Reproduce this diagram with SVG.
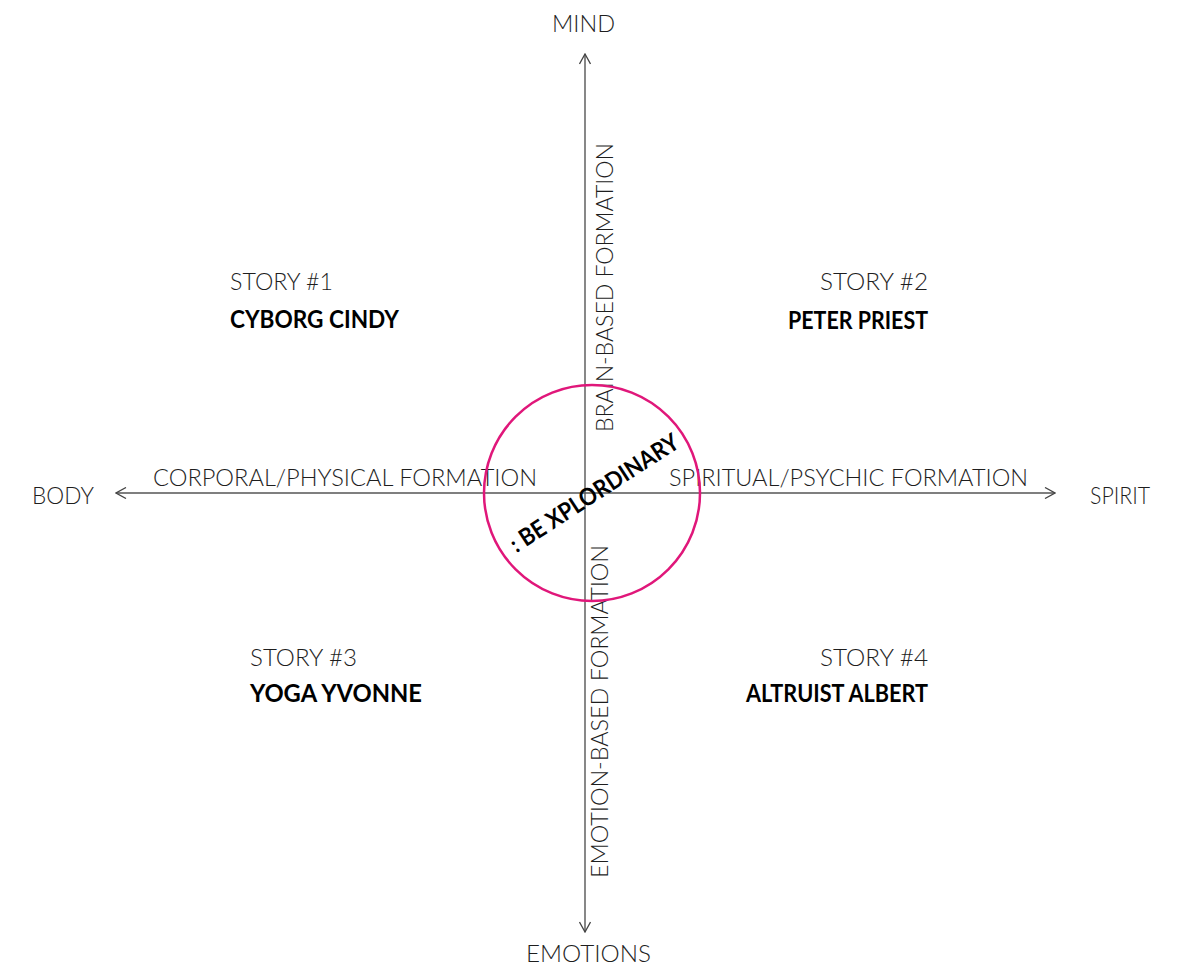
<svg xmlns="http://www.w3.org/2000/svg" width="1181" height="969" viewBox="0 0 1181 969">
  <style>
    .lt { font-family: Lato, "Liberation Sans", sans-serif; font-weight: 300; font-size: 24px; fill: #1e1e1e; }
    .bd { font-family: Lato, "Liberation Sans", sans-serif; font-weight: 700; font-size: 24px; fill: #000; }
    .ax { stroke: #555; stroke-width: 1.4; fill: none; }
  </style>
  <defs>
    <marker id="arr" viewBox="0 0 12 12" refX="11" refY="6" markerWidth="12" markerHeight="12" markerUnits="userSpaceOnUse" orient="auto">
      <path d="M1,0.5 L11,6 L1,11.5" fill="none" stroke="#444" stroke-width="1.3"/>
    </marker>
  </defs>
  <rect width="1181" height="969" fill="#fff"/>
  <g id="connectors">
    <line class="ax" x1="585" y1="493" x2="585" y2="54" marker-end="url(#arr)"/>
    <line class="ax" x1="585" y1="493" x2="585" y2="932" marker-end="url(#arr)"/>
    <line class="ax" x1="585" y1="493" x2="116" y2="493" marker-end="url(#arr)"/>
    <line class="ax" x1="585" y1="493" x2="1055" y2="493" marker-end="url(#arr)"/>
  </g>
  <g id="axis-labels">
    <text class="lt" x="552" y="32" textLength="63" lengthAdjust="spacingAndGlyphs">MIND</text>
    <text class="lt" x="526" y="962" textLength="125" lengthAdjust="spacingAndGlyphs">EMOTIONS</text>
    <text class="lt" x="32" y="504" textLength="62" lengthAdjust="spacingAndGlyphs">BODY</text>
    <text class="lt" x="1090" y="504" textLength="60" lengthAdjust="spacingAndGlyphs">SPIRIT</text>
    <text class="lt" x="153" y="486" textLength="384" lengthAdjust="spacingAndGlyphs">CORPORAL/PHYSICAL FORMATION</text>
    <text class="lt" x="669" y="486" textLength="359" lengthAdjust="spacingAndGlyphs">SPIRITUAL/PSYCHIC FORMATION</text>
    <text class="lt" transform="translate(613,432) rotate(-90)" x="0" y="0" textLength="289" lengthAdjust="spacingAndGlyphs">BRAIN-BASED FORMATION</text>
    <text class="lt" transform="translate(608,878) rotate(-90)" x="0" y="0" textLength="333" lengthAdjust="spacingAndGlyphs">EMOTION-BASED FORMATION</text>
  </g>
  <g id="center">
    <circle cx="592" cy="493" r="108" fill="none" stroke="#e0177a" stroke-width="2.5"/>
    <text class="bd" font-size="21" transform="translate(595,494) rotate(-33)" x="0" y="7" text-anchor="middle" textLength="196" lengthAdjust="spacingAndGlyphs">: BE XPLORDINARY</text>
  </g>
  <g id="story1">
    <text class="lt" x="230" y="290" textLength="103" lengthAdjust="spacingAndGlyphs">STORY #1</text>
    <text class="bd" x="230" y="328" textLength="169" lengthAdjust="spacingAndGlyphs">CYBORG CINDY</text>
  </g>
  <g id="story2">
    <text class="lt" x="928" y="290" text-anchor="end" textLength="108" lengthAdjust="spacingAndGlyphs">STORY #2</text>
    <text class="bd" x="928" y="329" text-anchor="end" textLength="140" lengthAdjust="spacingAndGlyphs">PETER PRIEST</text>
  </g>
  <g id="story3">
    <text class="lt" x="250" y="666" textLength="107" lengthAdjust="spacingAndGlyphs">STORY #3</text>
    <text class="bd" x="250" y="702" textLength="172" lengthAdjust="spacingAndGlyphs">YOGA YVONNE</text>
  </g>
  <g id="story4">
    <text class="lt" x="928" y="666" text-anchor="end" textLength="108" lengthAdjust="spacingAndGlyphs">STORY #4</text>
    <text class="bd" x="928" y="702" text-anchor="end" textLength="182" lengthAdjust="spacingAndGlyphs">ALTRUIST ALBERT</text>
  </g>
</svg>
